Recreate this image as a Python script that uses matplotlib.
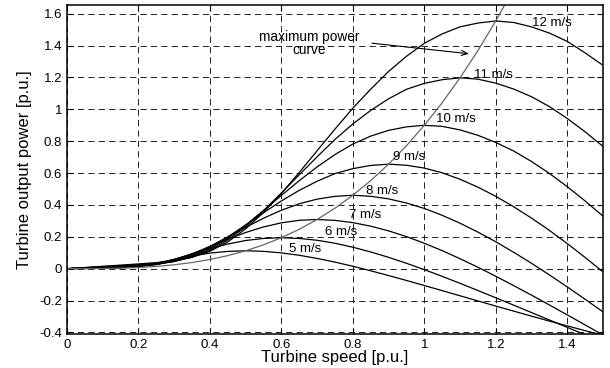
import matplotlib
matplotlib.use("Agg")
import matplotlib.pyplot as plt
from matplotlib.ticker import FormatStrFormatter

plt.rcParams['font.family'] = ['Liberation Sans', 'DejaVu Sans']
plt.rcParams['lines.scale_dashes'] = False

# turbine speed [p.u.]
speed = [0.0, 0.05, 0.1, 0.15, 0.2, 0.25, 0.3, 0.35, 0.4, 0.45, 0.5, 0.55, 0.6, 0.65, 0.7, 0.75,
         0.8, 0.85, 0.9, 0.95, 1.0, 1.05, 1.1, 1.15, 1.2, 1.25, 1.3, 1.35, 1.4, 1.45, 1.5]

# output power [p.u.] for each wind speed
p12 = [0, 0.0074, 0.0149, 0.0223, 0.0298, 0.0380, 0.0499, 0.0714, 0.1092, 0.1682, 0.2501,
       0.3530, 0.4727, 0.6038, 0.7403, 0.8760, 1.0075, 1.1267, 1.2379, 1.3331, 1.4147,
       1.4737, 1.518, 1.5417, 1.555, 1.5453, 1.5177, 1.4789, 1.4267, 1.3545, 1.2764]
p11 = [0, 0.0062, 0.0125, 0.0187, 0.0252, 0.0329, 0.0462, 0.0717, 0.1153, 0.1798, 0.2641,
       0.3641, 0.4751, 0.5894, 0.7022, 0.8112, 0.9086, 0.9934, 1.0663, 1.1259, 1.1631,
       1.1863, 1.1978, 1.1895, 1.1646, 1.1276, 1.0792, 1.0176, 0.9427, 0.8591, 0.7673]
p10 = [0, 0.0052, 0.0103, 0.0155, 0.0210, 0.0289, 0.0448, 0.0752, 0.1242, 0.1914, 0.2735,
       0.3654, 0.4601, 0.5523, 0.6387, 0.7164, 0.7825, 0.8322, 0.8682, 0.8902, 0.8999,
       0.8932, 0.8710, 0.8371, 0.7923, 0.7387, 0.6727, 0.5979, 0.5148, 0.4250, 0.330]
p9 = [0, 0.0042, 0.0084, 0.0126, 0.0174, 0.0265, 0.0461, 0.0814, 0.1335, 0.1994, 0.2738,
      0.3507, 0.4250, 0.4916, 0.5490, 0.5968, 0.6279, 0.6480, 0.6560, 0.6492, 0.6314,
      0.6019, 0.5610, 0.5117, 0.4540, 0.3890, 0.3173, 0.2405, 0.1575, 0.0705, -0.0202]
p8 = [0, 0.0033, 0.0066, 0.0100, 0.0148, 0.0260, 0.0503, 0.0886, 0.1400, 0.1990, 0.2595,
      0.3168, 0.3668, 0.4073, 0.4366, 0.4541, 0.4607, 0.4543, 0.4382, 0.4122, 0.3782,
      0.3349, 0.2853, 0.2295, 0.1689, 0.1030, 0.0336, -0.0390, -0.1145, -0.1922, -0.2710]
p7 = [0, 0.0025, 0.0051, 0.0078, 0.0134, 0.0278, 0.0550, 0.0938, 0.1392, 0.1850, 0.2270,
      0.2619, 0.2878, 0.3035, 0.3087, 0.3031, 0.2890, 0.2668, 0.2373, 0.2014, 0.1595,
      0.1132, 0.0624, 0.0088, -0.0475, -0.1064, -0.1661, -0.2278, -0.2900, -0.3530, -0.4162]
p6 = [0, 0.0019, 0.0037, 0.0062, 0.0136, 0.0313, 0.0591, 0.0925, 0.1259, 0.1547, 0.1768,
      0.1898, 0.1944, 0.1897, 0.1783, 0.1596, 0.1345, 0.1051, 0.0713, 0.0339, -0.0060,
      -0.0483, -0.0920, -0.1370, -0.1826, -0.2289, -0.2754, -0.3220, -0.3685, -0.4146, -0.4604]
p5 = [0, 0.0013, 0.0026, 0.0056, 0.0155, 0.0342, 0.0575, 0.0798, 0.0978, 0.1085, 0.1125,
      0.1089, 0.0990, 0.0841, 0.0644, 0.0412, 0.0151, -0.0131, -0.0431, -0.0740, -0.1057,
      -0.1378, -0.1702, -0.2025, -0.2346, -0.2664, -0.2979, -0.3288, -0.3592, -0.3889, -0.4182]

curves = [p12, p11, p10, p9, p8, p7, p6, p5]
labels = ['12 m/s', '11 m/s', '10 m/s', '9 m/s', '8 m/s', '7 m/s', '6 m/s', '5 m/s']
label_pos = [(1.30, 1.54), (1.14, 1.214), (1.033, 0.937), (0.911, 0.70),
             (0.837, 0.49), (0.79, 0.34), (0.721, 0.228), (0.621, 0.121)]

# maximum power curve
mp_speed = speed[:26]
mp_power = [0, 0.0001, 0.0009, 0.0030, 0.0072, 0.0141, 0.0243, 0.0386, 0.0576, 0.0820, 0.1125,
            0.1497, 0.1944, 0.2472, 0.3087, 0.3797, 0.4608, 0.5527, 0.6561, 0.7716, 0.9,
            1.0419, 1.198, 1.3689, 1.555, 1.7578]

fig = plt.figure(figsize=(6.1, 3.68), dpi=100)
ax = fig.add_axes([0.1098, 0.0924, 0.8787, 0.894])

ax.grid(True, color='#222222', linestyle=(0, (4.5, 3.0)), linewidth=0.7)
ax.set_axisbelow(True)

for p in curves:
    ax.plot(speed, p, color='k', linewidth=0.9, solid_joinstyle='round')
ax.plot(mp_speed, mp_power, color='#666666', linewidth=0.9, solid_joinstyle='round')

for lab, (x, y) in zip(labels, label_pos):
    ax.text(x, y, lab, fontsize=9.5, ha='left', va='center')

ax.text(0.678, 1.412, 'maximum power\ncurve', fontsize=9.8, ha='center', va='center',
        multialignment='center', linespacing=0.95)
ax.annotate('', xy=(1.133, 1.347), xytext=(0.846, 1.417),
            arrowprops=dict(arrowstyle='->,head_length=0.45,head_width=0.18', lw=0.8, color='k'))

ax.set_xlim(0, 1.5)
ax.set_ylim(-0.41, 1.655)
ax.set_xticks([0, 0.2, 0.4, 0.6, 0.8, 1.0, 1.2, 1.4])
ax.set_yticks([-0.4, -0.2, 0, 0.2, 0.4, 0.6, 0.8, 1.0, 1.2, 1.4, 1.6])
ax.xaxis.set_major_formatter(FormatStrFormatter('%g'))
ax.yaxis.set_major_formatter(FormatStrFormatter('%g'))
ax.tick_params(direction='in', length=4, width=0.8, top=True, right=True,
               labelsize=9.5, pad=3.5)
for s in ax.spines.values():
    s.set_linewidth(1.1)

ax.set_xlabel('Turbine speed [p.u.]', fontsize=12)
ax.set_ylabel('Turbine output power [p.u.]', fontsize=12)
ax.xaxis.set_label_coords(0.5, -0.0486)
ax.yaxis.set_label_coords(-0.066, 0.5)

fig.savefig('out.png', dpi=100)
